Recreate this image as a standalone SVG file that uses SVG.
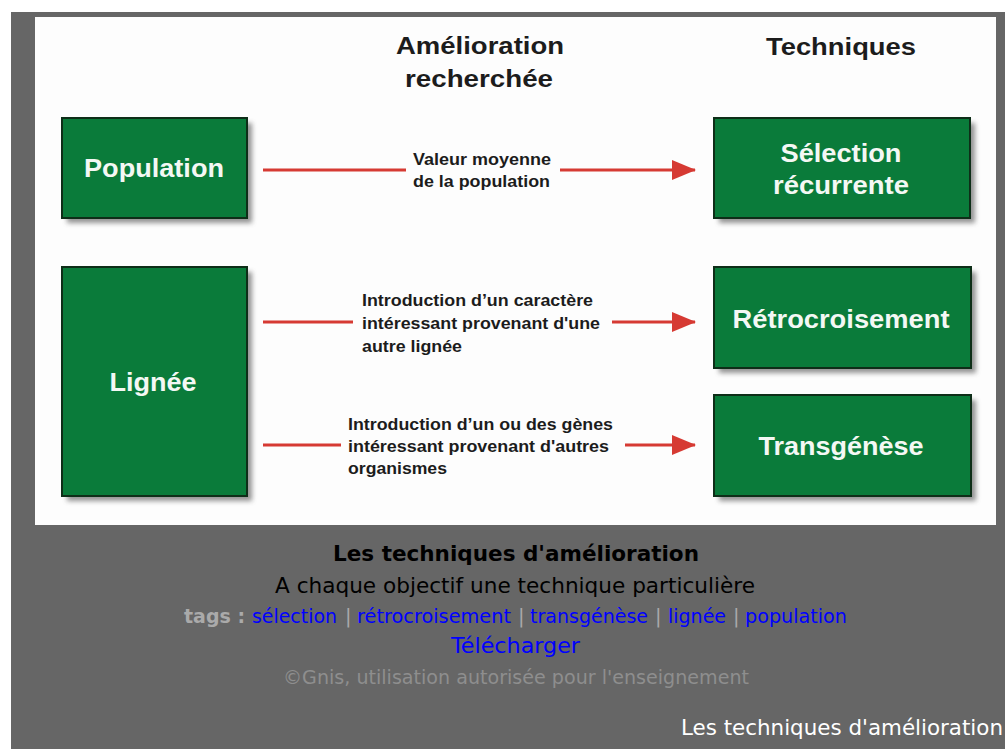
<svg xmlns="http://www.w3.org/2000/svg" width="1005" height="749" viewBox="0 0 1005 749">
<style>
.box{fill:#0a7b3a;stroke:#0e2e18;stroke-width:2}
.bt{font-family:"Liberation Sans",Arial,sans-serif;font-weight:bold;font-size:25px;fill:#f4f8f4;text-anchor:middle}
.hd{font-family:"Liberation Sans",Arial,sans-serif;font-weight:bold;font-size:24px;fill:#1c1c1c;text-anchor:middle}
.lb{font-family:"Liberation Sans",Arial,sans-serif;font-weight:bold;font-size:17px;fill:#1c1c1c}
.ln{stroke:#d63a33;stroke-width:3;fill:none}
.web{font-family:"DejaVu Sans",sans-serif}
.lk{fill:#0000ff}
.gr{fill:#aaaaaa}
</style>
<defs>
<filter id="sh" x="-10%" y="-10%" width="130%" height="130%">
<feGaussianBlur stdDeviation="2.5"/>
</filter>
<marker id="ah" markerWidth="24" markerHeight="20" refX="23" refY="10" orient="auto" markerUnits="userSpaceOnUse">
<path d="M0,0 L24,10 L0,20 Z" fill="#d63a33"/>
</marker>
</defs>
<rect x="0" y="0" width="1005" height="749" fill="#ffffff"/>
<rect x="11" y="12" width="994" height="737" fill="#666666"/>
<rect x="35" y="17" width="961" height="508" fill="#fdfdfd"/>

<g id="headers">
<text class="hd" x="480" y="54" textLength="168" lengthAdjust="spacingAndGlyphs">Amélioration</text>
<text class="hd" x="479" y="87" textLength="148" lengthAdjust="spacingAndGlyphs">recherchée</text>
<text class="hd" x="841" y="55" textLength="150" lengthAdjust="spacingAndGlyphs">Techniques</text>
</g>

<g id="node-population">
<rect x="67" y="123" width="185" height="100" fill="#666" opacity="0.7" filter="url(#sh)"/>
<rect class="box" x="62" y="118" width="185" height="100"/>
<text class="bt" x="154" y="177" textLength="140" lengthAdjust="spacingAndGlyphs">Population</text>
</g>
<g id="node-lignee">
<rect x="67" y="272" width="185" height="229" fill="#666" opacity="0.7" filter="url(#sh)"/>
<rect class="box" x="62" y="267" width="185" height="229"/>
<text class="bt" x="153" y="391" textLength="87" lengthAdjust="spacingAndGlyphs">Lignée</text>
</g>
<g id="node-selection">
<rect x="719" y="123" width="256" height="100" fill="#666" opacity="0.7" filter="url(#sh)"/>
<rect class="box" x="714" y="118" width="256" height="100"/>
<text class="bt" x="841" y="162" textLength="121" lengthAdjust="spacingAndGlyphs">Sélection</text>
<text class="bt" x="841" y="194" textLength="136" lengthAdjust="spacingAndGlyphs">récurrente</text>
</g>
<g id="node-retro">
<rect x="719" y="272" width="257" height="101" fill="#666" opacity="0.7" filter="url(#sh)"/>
<rect class="box" x="714" y="267" width="257" height="101"/>
<text class="bt" x="841" y="328" textLength="217" lengthAdjust="spacingAndGlyphs">Rétrocroisement</text>
</g>
<g id="node-transgenese">
<rect x="719" y="400" width="257" height="101" fill="#666" opacity="0.7" filter="url(#sh)"/>
<rect class="box" x="714" y="395" width="257" height="101"/>
<text class="bt" x="841" y="455" textLength="165" lengthAdjust="spacingAndGlyphs">Transgénèse</text>
</g>

<g id="connectors">
<line class="ln" x1="263" y1="170" x2="406" y2="170"/>
<line class="ln" x1="560" y1="170" x2="695" y2="170" marker-end="url(#ah)"/>
<line class="ln" x1="263" y1="322" x2="353" y2="322"/>
<line class="ln" x1="612" y1="322" x2="695" y2="322" marker-end="url(#ah)"/>
<line class="ln" x1="263" y1="445" x2="341" y2="445"/>
<line class="ln" x1="625" y1="445" x2="695" y2="445" marker-end="url(#ah)"/>
</g>

<g id="labels">
<text class="lb" x="413" y="165" textLength="138" lengthAdjust="spacingAndGlyphs">Valeur moyenne</text>
<text class="lb" x="413" y="187" textLength="137" lengthAdjust="spacingAndGlyphs">de la population</text>
<text class="lb" x="362" y="306" textLength="231" lengthAdjust="spacingAndGlyphs">Introduction d’un caractère</text>
<text class="lb" x="362" y="329" textLength="238" lengthAdjust="spacingAndGlyphs">intéressant provenant d'une</text>
<text class="lb" x="362" y="352" textLength="100" lengthAdjust="spacingAndGlyphs">autre lignée</text>
<text class="lb" x="348" y="430" textLength="265" lengthAdjust="spacingAndGlyphs">Introduction d’un ou des gènes</text>
<text class="lb" x="348" y="452" textLength="261" lengthAdjust="spacingAndGlyphs">intéressant provenant d'autres</text>
<text class="lb" x="348" y="474" textLength="99" lengthAdjust="spacingAndGlyphs">organismes</text>
</g>

<g id="caption">
<text class="web" x="333" y="561" font-size="21.5" font-weight="bold" fill="#000000" textLength="366" lengthAdjust="spacingAndGlyphs">Les techniques d'amélioration</text>
<text class="web" x="275" y="593" font-size="21.5" fill="#000000" textLength="480" lengthAdjust="spacingAndGlyphs">A chaque objectif une technique particulière</text>
<g font-size="19.5">
<text class="web gr" x="184" y="623" font-weight="bold" textLength="61" lengthAdjust="spacingAndGlyphs">tags :</text>
<text class="web lk" x="252" y="623" textLength="85" lengthAdjust="spacingAndGlyphs">sélection</text>
<text class="web gr" x="345" y="623">|</text>
<text class="web lk" x="357" y="623" textLength="154" lengthAdjust="spacingAndGlyphs">rétrocroisement</text>
<text class="web gr" x="518" y="623">|</text>
<text class="web lk" x="530" y="623" textLength="118" lengthAdjust="spacingAndGlyphs">transgénèse</text>
<text class="web gr" x="655" y="623">|</text>
<text class="web lk" x="668" y="623" textLength="58" lengthAdjust="spacingAndGlyphs">lignée</text>
<text class="web gr" x="733" y="623">|</text>
<text class="web lk" x="745" y="623" textLength="102" lengthAdjust="spacingAndGlyphs">population</text>
</g>
<text class="web" x="451" y="653" font-size="22" fill="#0000ff" textLength="129" lengthAdjust="spacingAndGlyphs">Télécharger</text>
<text class="web" x="283" y="684" font-size="19" fill="#8e8e8e" textLength="466" lengthAdjust="spacingAndGlyphs">©Gnis, utilisation autorisée pour l'enseignement</text>
<text class="web" x="681" y="735" font-size="21.5" fill="#ffffff" textLength="322" lengthAdjust="spacingAndGlyphs">Les techniques d'amélioration</text>
</g>
</svg>
